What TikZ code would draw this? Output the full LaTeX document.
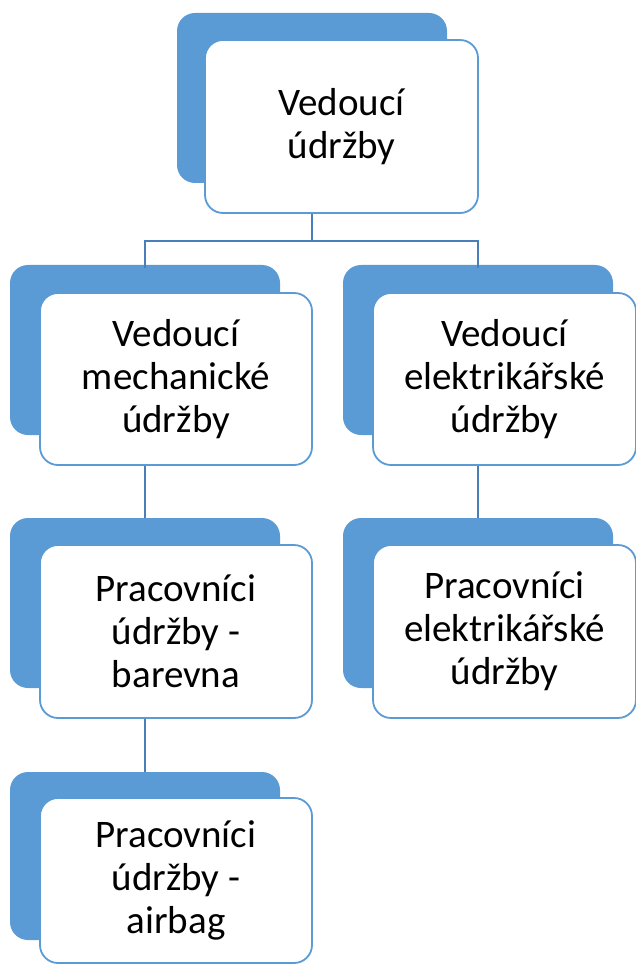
\documentclass[tikz,border=0pt]{standalone}
\usepackage{fontspec}
\setmainfont{Carlito}
\usetikzlibrary{calc}
\definecolor{boxblue}{HTML}{5B9BD5}
\definecolor{connblue}{HTML}{4A7EBB}
\begin{document}
\begin{tikzpicture}[x=1pt,y=-1pt,
  back/.style={rectangle, rounded corners=18pt, fill=boxblue, draw=none, inner sep=0pt},
  front/.style={rectangle, rounded corners=18pt, fill=white, draw=boxblue, line width=1.8pt,
     align=center, inner sep=0pt, font=\fontsize{39}{43}\selectfont},
  conn/.style={draw=connblue, line width=2.5pt}]
\useasboundingbox (0,0) rectangle (636,965);
% top
\node[back, minimum width=270pt, minimum height=170pt] (b0) at (312,98) {};
\node[front, minimum width=273pt, minimum height=173pt] (w0) at (341.5,126.5) {Vedoucí\\údržby};
% level 1
\node[back, minimum width=270pt, minimum height=170pt] (b1) at (145,350) {};
\node[front, minimum width=272pt, minimum height=172pt] (w1) at (176,379) {Vedoucí\\mechanické\\údržby};
\node[back, minimum width=270pt, minimum height=170pt] (b2) at (478,350) {};
\node[front, minimum width=263pt, minimum height=172pt] (w2) at (504.5,379) {Vedoucí\\elektrikářské\\údržby};
% level 2
\node[back, minimum width=270pt, minimum height=170pt] (b3) at (145,603) {};
\node[front, minimum width=272pt, minimum height=173pt] (w3) at (176,631.5) {Pracovníci\\údržby -\\barevna};
\node[back, minimum width=270pt, minimum height=170pt] (b4) at (478,603) {};
\node[front, minimum width=263pt, minimum height=173pt] (w4) at (504.5,631.5) {Pracovníci\\elektrikářské\\údržby};
% level 3
\node[back, minimum width=270pt, minimum height=168pt] (b5) at (145,856) {};
\node[front, minimum width=272pt, minimum height=165pt] (w5) at (176,880.5) {Pracovníci\\údržby -\\airbag};
% connectors
\coordinate (j0) at ($(b0 |- w0.south)+(0,27)$);
\draw[conn] (b0 |- w0.south) -- (j0);
\draw[conn] (j0) -| ([yshift=-3pt]b1.north);
\draw[conn] (j0) -| ([yshift=-3pt]b2.north);
\draw[conn] (b1 |- w1.south) -- (b3.north);
\draw[conn] (b2 |- w2.south) -- (b4.north);
\draw[conn] (b3 |- w3.south) -- (b5.north);
\end{tikzpicture}
\end{document}
